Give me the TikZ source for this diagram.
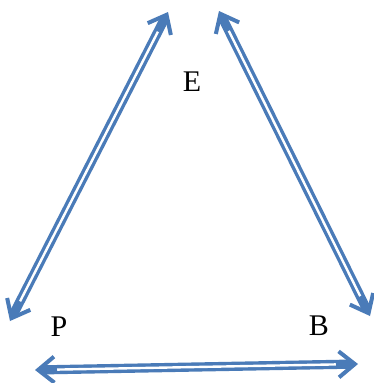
\documentclass[tikz,border=0pt]{standalone}
\usepackage{fontspec}
\setmainfont{Liberation Serif}
\usetikzlibrary{arrows.meta,calc}
\definecolor{arrblue}{HTML}{4A7BB8}
\newcommand{\lblfont}{\fontsize{30}{34}\selectfont}
\tikzset{
  shaft/.style={draw=arrblue, line width=3.4pt, double=white, double distance=2.4pt},
  headtip/.style={draw=arrblue, line width=4pt, -{Straight Barb[length=16pt,width=26pt,line width=4pt]}},
  lbl/.style={inner sep=0pt}
}
\begin{document}
\begin{tikzpicture}[x=1pt,y=-1pt]
\useasboundingbox (0,0) rectangle (373,383);
\fill[white] (0,0) rectangle (373,383);
\coordinate (pl) at (10,321);
\coordinate (el) at (168,12);
\coordinate (er) at (219,11);
\coordinate (br) at (370,316);
\coordinate (pb) at (35,370);
\coordinate (bb) at (358,364);
% left arrow
\draw[shaft] ($(pl)!7pt!(el)$) -- ($(el)!7pt!(pl)$);
\draw[headtip] ($(pl)!22pt!(el)$) -- (pl);
\draw[headtip] ($(el)!22pt!(pl)$) -- (el);
% right arrow
\draw[shaft] ($(er)!7pt!(br)$) -- ($(br)!7pt!(er)$);
\draw[headtip] ($(er)!22pt!(br)$) -- (er);
\draw[headtip] ($(br)!22pt!(er)$) -- (br);
% bottom arrow
\draw[shaft] ($(pb)!7pt!(bb)$) -- ($(bb)!7pt!(pb)$);
\draw[headtip] ($(pb)!22pt!(bb)$) -- (pb);
\draw[headtip] ($(bb)!22pt!(pb)$) -- (bb);
\node[lbl] (E) at (192,82) {\lblfont E};
\node[lbl] (P) at (59,327) {\lblfont P};
\node[lbl] (B) at (319,326) {\lblfont B};
\end{tikzpicture}
\end{document}
